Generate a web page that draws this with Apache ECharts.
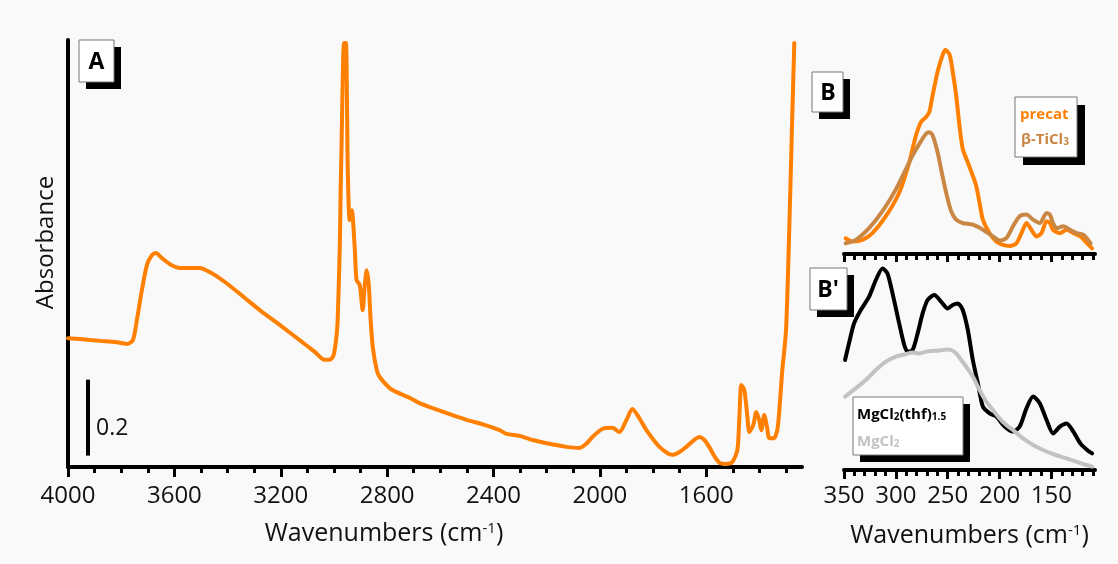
<!DOCTYPE html>
<html><head><meta charset="utf-8">
<script src="https://cdn.jsdelivr.net/npm/echarts@6/dist/echarts.min.js"></script>
<style>html,body{margin:0;padding:0;background:#f9f9f9}#c{width:1118px;height:564px}</style>
</head><body><div id="c"></div>
<script>
// ---------- Panel A : mid-IR spectrum ----------
const wnA = [4000,3955,3880,3823,3778,3756,3741,3722,3703,3684,3669,3647,3617,3579,3542,3504,3467,3410,3335,3279,3204,3129,3072,3035,3016,3001,2990,2986,2978,2975,2971,2967,2962,2955,2948,2941,2933,2922,2915,2903,2892,2884,2877,2869,2862,2854,2839,2828,2791,2764,2715,2678,2629,2565,2501,2434,2377,2351,2302,2253,2190,2126,2077,2051,2028,1991,1953,1927,1900,1878,1852,1825,1776,1728,1702,1675,1626,1607,1589,1570,1550,1525,1502,1483,1476,1468,1457,1446,1438,1423,1412,1401,1393,1382,1371,1363,1345,1333,1326,1315,1300,1288,1277,1269];
const absA = [0.339,0.337,0.332,0.329,0.324,0.334,0.387,0.466,0.532,0.558,0.563,0.55,0.534,0.524,0.524,0.524,0.513,0.487,0.445,0.413,0.374,0.334,0.303,0.282,0.282,0.295,0.347,0.387,0.579,0.721,0.861,1.018,1.116,1.116,0.782,0.65,0.676,0.579,0.492,0.479,0.413,0.479,0.518,0.479,0.387,0.316,0.255,0.237,0.208,0.197,0.182,0.168,0.155,0.139,0.124,0.111,0.097,0.087,0.082,0.071,0.061,0.053,0.05,0.061,0.079,0.1,0.103,0.092,0.124,0.153,0.129,0.097,0.053,0.032,0.039,0.053,0.079,0.071,0.053,0.029,0.011,0.008,0.013,0.045,0.124,0.216,0.203,0.137,0.092,0.111,0.145,0.124,0.097,0.137,0.103,0.076,0.076,0.097,0.142,0.247,0.361,0.624,0.913,1.116];
const ticksA = [4000,3600,3200,2800,2400,2000,1600];
const scaleBarA = {wn: 3924, from: 0.03, to: 0.23, label: '0.2'};

// ---------- Panel B : far-IR, precat vs beta-TiCl3 ----------
const wnPrecat = [348.4,342,332.3,322.6,309.6,296.8,287.1,280.6,275.8,270.9,267.7,264.5,259.7,254.8,252.2,248.2,245.2,241.9,238.7,235.5,230.6,225.8,222.5,219.3,216.1,209.6,203.1,196.8,190.3,183.8,178.9,174.1,169.3,164.4,159.6,154.7,151.5,148.4,141.9,135.4,128.6,122.1,115.6,110.8];
const precat = [0.078,0.062,0.07,0.103,0.187,0.303,0.453,0.587,0.653,0.678,0.703,0.787,0.903,0.987,1.01,0.987,0.903,0.787,0.637,0.52,0.453,0.387,0.337,0.253,0.17,0.103,0.062,0.045,0.04,0.053,0.103,0.153,0.12,0.087,0.103,0.162,0.153,0.12,0.103,0.12,0.103,0.087,0.053,0.028];
const wnTiCl3 = [348.4,338.7,325.8,312.9,300,290.3,283.9,277.4,270.9,267.7,264.5,259.7,256.4,251.5,246.7,241.9,235.5,225.8,216.1,206.4,200,193.5,187.1,180.6,174.1,167.7,161.2,154.7,151.5,148.4,145.1,138.6,132,125.5,119,112.3];
const tiCl3 = [0.053,0.07,0.128,0.212,0.32,0.42,0.487,0.545,0.595,0.603,0.587,0.503,0.42,0.303,0.212,0.17,0.153,0.145,0.12,0.087,0.067,0.078,0.137,0.187,0.195,0.17,0.153,0.203,0.195,0.153,0.128,0.137,0.12,0.103,0.095,0.053];

// ---------- Panel B' : MgCl2(thf)1.5 vs MgCl2 ----------
const wnMgThf = [349,345.2,340.3,333.8,325.8,319.3,312.9,308.1,303.2,296.8,291.9,288.7,283.9,279,274.2,269.4,262.9,256.4,250,245.2,240.3,235.5,230.6,225.8,220.9,216.1,209.6,203.1,195.1,187.1,180.6,174.1,167.7,161.2,154.7,148.4,141.9,135.4,128.9,122.1,115.6,110.8];
const mgThf = [0.55,0.633,0.733,0.8,0.867,0.95,1.008,0.983,0.883,0.733,0.625,0.592,0.6,0.683,0.783,0.85,0.875,0.842,0.808,0.825,0.833,0.8,0.7,0.55,0.433,0.317,0.283,0.267,0.217,0.192,0.217,0.308,0.367,0.333,0.25,0.183,0.217,0.233,0.192,0.133,0.1,0.083];
const wnMgCl2 = [349,338.7,329,319.3,309.6,300,290.3,283.9,277.4,270.9,264.5,258,251.5,246.7,241.9,237,232.2,225.8,219.3,212.8,206.4,200,193.5,187.1,177.4,167.7,158,148.4,138.6,128.9,119.3,110.8];
const mgCl2 = [0.367,0.408,0.45,0.5,0.542,0.567,0.58,0.587,0.583,0.592,0.595,0.597,0.603,0.6,0.583,0.55,0.517,0.467,0.4,0.342,0.3,0.258,0.225,0.2,0.158,0.125,0.1,0.08,0.063,0.047,0.03,0.017];
const ticksB = [350,300,250,200,150];

// ---------- helpers ----------
const zip = (xs, ys) => xs.map((x, i) => [x, ys[i]]);
const range = (a, b, s) => { const r = []; for (let v = a; v <= b; v += s) r.push(v); return r; };
const minorA = range(1300, 3900, 100).filter(v => v % 400 !== 0);
const minorB = range(110, 340, 10).filter(v => v % 50 !== 0);

const FONT = '"Open Sans", "DejaVu Sans", sans-serif';
const ORANGE = '#ff8000', BROWN = '#c98743', GREY = '#c2c2c2', BLACK = '#000';
const plain = v => String(v);

const nameRich = {
  n: {fontFamily: FONT, fontSize: 25, color: '#111'},
  s: {fontFamily: FONT, fontSize: 15, color: '#111', verticalAlign: 'top'}
};
const axisNameText = '{n|Wavenumbers (cm}{s|-1}{n|)}';

function mainX(grid, min, max, ticks, opts) {
  return Object.assign({
    type: 'value', gridIndex: grid, position: 'bottom', inverse: true, min: min, max: max,
    axisLine: {show: true, onZero: false, lineStyle: {color: BLACK, width: 4}},
    axisTick: {show: true, customValues: ticks, length: 10, lineStyle: {color: BLACK, width: 3}},
    axisLabel: {show: true, customValues: ticks, formatter: plain, fontFamily: FONT, fontSize: 24, color: '#111', margin: 17},
    splitLine: {show: false}
  }, opts || {});
}
function minorX(grid, min, max, ticks, len) {
  return {
    type: 'value', gridIndex: grid, position: 'bottom', inverse: true, min: min, max: max,
    axisLine: {show: false},
    axisTick: {show: true, customValues: ticks, length: len, lineStyle: {color: BLACK, width: 3}},
    axisLabel: {show: false}, splitLine: {show: false}
  };
}

const line = (name, xi, yi, data, color, z) => ({
  type: 'line', name: name, xAxisIndex: xi, yAxisIndex: yi, data: data,
  showSymbol: false, symbol: 'none', smooth: 0.25, clip: false, z: z || 2,
  lineStyle: {color: color, width: 4, join: 'round', cap: 'round'}, silent: true
});

function box(x, y, w, h, off) {
  return [
    {type: 'rect', shape: {x: x + off, y: y + off, width: w, height: h}, style: {fill: '#000'}, z: 100},
    {type: 'rect', shape: {x: x, y: y, width: w, height: h}, style: {fill: '#fff', stroke: '#777', lineWidth: 1}, z: 101}
  ];
}
function txt(x, y, text, opts) {
  return {type: 'text', x: x, y: y, z: 102, style: Object.assign({
    text: text, fontFamily: FONT, fontWeight: 'bold', fontSize: 22, fill: '#000',
    align: 'center', verticalAlign: 'middle'}, opts || {})};
}
function subRich(color) {
  return {
    m: {fontFamily: FONT, fontWeight: 'bold', fontSize: 15, fill: color, color: color},
    s: {fontFamily: FONT, fontWeight: 'bold', fontSize: 10, fill: color, color: color, verticalAlign: 'bottom'}
  };
}

const chart = echarts.init(document.getElementById('c'), null, {renderer: 'canvas'});
const seriesA = line('A', 0, 0, zip(wnA, absA), ORANGE);
seriesA.clip = true;
seriesA.markLine = {
  silent: true, symbol: ['none', 'none'], label: {show: false}, animation: false,
  lineStyle: {color: BLACK, width: 4, type: 'solid'}, emphasis: {disabled: true},
  data: [[{coord: [scaleBarA.wn, scaleBarA.from]}, {coord: [scaleBarA.wn, scaleBarA.to]}]]
};

chart.setOption({
  animation: false,
  backgroundColor: '#f9f9f9',
  grid: [
    {left: 68, top: 40, width: 734, height: 427},
    {left: 844, top: 52, width: 251, height: 202},
    {left: 844, top: 270, width: 251, height: 200}
  ],
  xAxis: [
    mainX(0, 1240, 4000, ticksA, {
      name: axisNameText, nameLocation: 'middle', nameGap: 54,
      nameTextStyle: {rich: nameRich, padding: [0, 102, 0, 0]}
    }),
    minorX(0, 1240, 4000, minorA, 6),
    mainX(1, 108, 350, ticksB, {axisLabel: {show: false}, axisTick: {show: true, customValues: ticksB, length: 8, lineStyle: {color: BLACK, width: 3}}}),
    minorX(1, 108, 350, minorB, 6),
    mainX(2, 108, 350, ticksB, {
      axisTick: {show: true, customValues: ticksB, length: 9, lineStyle: {color: BLACK, width: 3}},
      axisLabel: {show: true, customValues: ticksB, formatter: plain, fontFamily: FONT, fontSize: 24, color: '#111', margin: 14},
      name: axisNameText, nameLocation: 'middle', nameGap: 53,
      nameTextStyle: {rich: nameRich}
    }),
    minorX(2, 108, 350, minorB, 6)
  ],
  yAxis: [
    {type: 'value', gridIndex: 0, min: 0, max: 1.124,
     axisLine: {show: true, lineStyle: {color: BLACK, width: 4}},
     axisTick: {show: false}, axisLabel: {show: false}, splitLine: {show: false},
     name: 'Absorbance', nameLocation: 'middle', nameGap: 10,
     nameTextStyle: {fontFamily: FONT, fontSize: 24, color: '#111', padding: [0, 0, 0, 22]}},
    {type: 'value', gridIndex: 1, min: 0, max: 1, show: false},
    {type: 'value', gridIndex: 2, min: 0, max: 1, show: false}
  ],
  series: [
    seriesA,
    line('precat', 2, 1, zip(wnPrecat, precat), ORANGE, 2),
    line('β-TiCl3', 2, 1, zip(wnTiCl3, tiCl3), BROWN, 3),
    line('MgCl2(thf)1.5', 4, 2, zip(wnMgThf, mgThf), BLACK, 2),
    line('MgCl2', 4, 2, zip(wnMgCl2, mgCl2), GREY, 3)
  ],
  graphic: [].concat(
    box(79, 40, 35, 42, 7), [txt(96.5, 62, 'A', {fontSize: 23})],
    box(812, 72, 31, 40, 7), [txt(828, 93, 'B', {fontSize: 23})],
    box(810, 268, 37, 42, 7), [txt(828, 290, "B'", {fontSize: 23})],
    box(1015, 97, 62, 60, 8),
    [txt(1020, 115, 'precat', {align: 'left', fontSize: 15, fill: ORANGE}),
     txt(1021, 140, '{m|β-TiCl}{s|3}', {align: 'left', fontSize: 15, fill: BROWN, rich: subRich(BROWN)})],
    box(853, 397, 110, 58, 7),
    [txt(857, 415, '{m|MgCl}{s|2}{m|(thf)}{s|1.5}', {align: 'left', fontSize: 15, fill: '#000', rich: subRich('#000')}),
     txt(857, 442, '{m|MgCl}{s|2}', {align: 'left', fontSize: 15, fill: GREY, rich: subRich(GREY)})],
    [txt(96, 428, scaleBarA.label, {align: 'left', fontWeight: 'normal', fontSize: 23, fill: '#111'})]
  )
});
</script></body></html>
